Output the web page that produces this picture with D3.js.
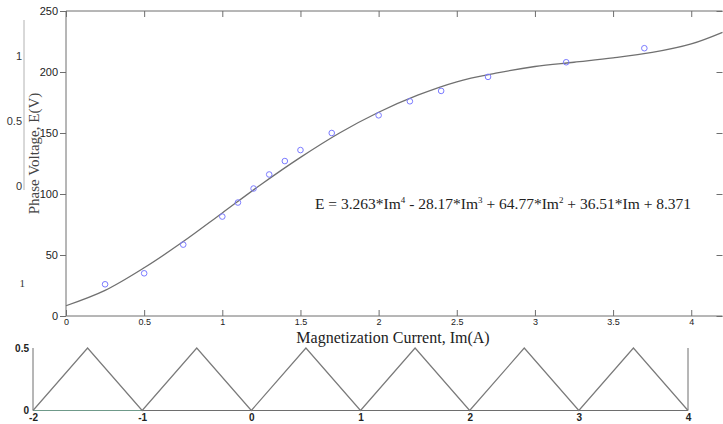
<!DOCTYPE html>
<html>
<head>
<meta charset="utf-8">
<script src="https://cdn.jsdelivr.net/npm/d3@7"></script>
<style>
  body { margin: 0; background: #fff; }
  svg { display: block; font-family: "Liberation Serif", "Times New Roman", serif; }
</style>
</head>
<body>
<script>
// measured points (blue circles)
var measCurrent = [0.25, 0.5, 0.75, 1.0, 1.1, 1.2, 1.3, 1.4, 1.5, 1.7, 2.0, 2.2, 2.4, 2.7, 3.2, 3.7];
var measVoltage = [26, 35, 58.5, 81.5, 93, 104.5, 116, 127, 136, 150, 164.5, 176, 184.5, 196, 208, 219.5];

// fitted curve
var fitCurrent = [0, 0.25, 0.5, 0.75, 1.0, 1.25, 1.5, 1.75, 2.0, 2.25, 2.5, 2.75, 3.0, 3.25, 3.5, 3.75, 4.0, 4.2];
var fitVoltage = [8.4, 21, 39.5, 61, 84.5, 108, 130, 150, 167, 181, 192, 199, 204.5, 208, 211.5, 216, 223, 232.5];

var xTicks = [0, 0.5, 1, 1.5, 2, 2.5, 3, 3.5, 4];
var yTicks = [0, 50, 100, 150, 200, 250];

// lower strip: triangle wave
var waveX = [-2, -1.5, -1, -0.5, 0, 0.5, 1, 1.5, 2, 2.5, 3, 3.5, 4];
var waveY = [0, 0.5, 0, 0.5, 0, 0.5, 0, 0.5, 0, 0.5, 0, 0.5, 0];
var waveTicks = [-2, -1, 0, 1, 2, 3, 4];
var waveYTicks = [0, 0.5];

// faint leftover axis on the far left
var ghostTicks = [0, 0.5, 1];

var width = 723, height = 424;
var axisCol = "#6e6e6e";

var svg = d3.select("body").append("svg")
    .attr("width", width)
    .attr("height", height);

// ghost axis
var yg = d3.scaleLinear().domain([0, 1]).range([186, 56]);
svg.append("line")
    .attr("x1", 24).attr("x2", 24).attr("y1", 20).attr("y2", 190)
    .attr("stroke", "#a0a0a0").attr("stroke-width", 0.8);
var gg = svg.append("g")
    .attr("transform", "translate(22,0)")
    .call(d3.axisLeft(yg).tickValues(ghostTicks).tickSize(0).tickPadding(0).tickFormat(d3.format("")));
gg.select(".domain").remove();
gg.selectAll("text").style("font-size", "11px").attr("fill", "#333");
svg.append("text")
    .attr("x", 25).attr("y", yg(-0.75))
    .attr("dy", "0.32em")
    .attr("text-anchor", "end")
    .style("font-size", "11px")
    .attr("fill", "#333")
    .text("1");

// ---- main plot ----
var x = d3.scaleLinear().domain([0, 4.2]).range([66, 722.5]);
var y = d3.scaleLinear().domain([0, 250]).range([316, 11]);

// box
svg.append("path")
    .attr("d", `M${x(4.2)},${y(250)}H${x(0)}V${y(0)}H${x(4.2)}`)
    .attr("fill", "none")
    .attr("stroke", axisCol)
    .attr("stroke-width", 1);

var gx = svg.append("g")
    .attr("transform", `translate(0,${y(0)})`)
    .call(d3.axisBottom(x).tickValues(xTicks).tickSizeInner(-6).tickSizeOuter(0).tickPadding(3)
      .tickFormat(d3.format("")));
gx.select(".domain").remove();
gx.selectAll("line").attr("stroke", axisCol);
gx.selectAll("text").style("font-size", "9px").attr("fill", "#222");

var gxt = svg.append("g")
    .attr("transform", `translate(0,${y(250)})`)
    .call(d3.axisTop(x).tickValues(xTicks).tickSizeInner(-6).tickSizeOuter(0).tickFormat(""));
gxt.select(".domain").remove();
gxt.selectAll("line").attr("stroke", axisCol);

var gy = svg.append("g")
    .attr("transform", `translate(${x(0)},0)`)
    .call(d3.axisLeft(y).tickValues(yTicks).tickSizeInner(6).tickSizeOuter(0).tickPadding(2));
gy.select(".domain").remove();
gy.selectAll("line").attr("stroke", axisCol);
gy.selectAll("text").style("font-size", "11px").attr("fill", "#222");

var gyr = svg.append("g")
    .attr("transform", `translate(${x(4.2)},0)`)
    .call(d3.axisRight(y).tickValues(yTicks).tickSizeInner(-6).tickSizeOuter(0).tickFormat(""));
gyr.select(".domain").remove();
gyr.selectAll("line").attr("stroke", axisCol);

// fitted curve
var fitData = fitCurrent.map((c, i) => [c, fitVoltage[i]]);
svg.append("path")
    .datum(fitData)
    .attr("fill", "none")
    .attr("stroke", "#707070")
    .attr("stroke-width", 1.3)
    .attr("d", d3.line().x(d => x(d[0])).y(d => y(d[1])).curve(d3.curveCatmullRom));

// measured circles
svg.selectAll("circle.meas")
  .data(measCurrent.map((c, i) => [c, measVoltage[i]]))
  .enter().append("circle")
    .attr("class", "meas")
    .attr("cx", d => x(d[0]))
    .attr("cy", d => y(d[1]))
    .attr("r", 2.8)
    .attr("fill", "none")
    .attr("stroke", "#7b7bff")
    .attr("stroke-width", 1);

// labels
svg.append("text")
    .attr("transform", `translate(39,${(y(0) + y(250)) / 2 - 10}) rotate(-90)`)
    .attr("text-anchor", "middle")
    .style("font-size", "15px")
    .attr("fill", "#444")
    .text("Phase Voltage, E(V)");

svg.append("text")
    .attr("x", 393)
    .attr("y", 343)
    .attr("text-anchor", "middle")
    .style("font-size", "16px")
    .attr("fill", "#222")
    .text("Magnetization Current, Im(A)");

var eq = svg.append("text")
    .attr("x", 315)
    .attr("y", 209)
    .style("font-size", "15.5px")
    .attr("fill", "#222");
eq.append("tspan").text("E = 3.263*Im");
eq.append("tspan").attr("dy", -6).style("font-size", "9px").text("4");
eq.append("tspan").attr("dy", 6).text(" - 28.17*Im");
eq.append("tspan").attr("dy", -6).style("font-size", "9px").text("3");
eq.append("tspan").attr("dy", 6).text(" + 64.77*Im");
eq.append("tspan").attr("dy", -6).style("font-size", "9px").text("2");
eq.append("tspan").attr("dy", 6).text(" + 36.51*Im + 8.371");

// ---- lower strip ----
var x2 = d3.scaleLinear().domain([-2, 4]).range([33, 688]);
var y2 = d3.scaleLinear().domain([0, 0.5]).range([410.5, 348]);

svg.append("path")
    .attr("d", `M${x2(-2)},${y2(0.5)}V${y2(0)}H${x2(4)}V${y2(0.5)}`)
    .attr("fill", "none")
    .attr("stroke", axisCol)
    .attr("stroke-width", 1);
svg.append("line")
    .attr("x1", x2(-2)).attr("x2", x2(-1))
    .attr("y1", y2(0)).attr("y2", y2(0))
    .attr("stroke", "#6f9a8a")
    .attr("stroke-width", 1.2);

svg.append("path")
    .datum(waveX.map((v, i) => [v, waveY[i]]))
    .attr("fill", "none")
    .attr("stroke", "#7a7a7a")
    .attr("stroke-width", 1.2)
    .attr("d", d3.line().x(d => x2(d[0])).y(d => y2(d[1])));

var gx2 = svg.append("g")
    .attr("transform", `translate(0,${y2(0)})`)
    .call(d3.axisBottom(x2).tickValues(waveTicks).tickSize(0).tickPadding(3)
      .tickFormat(d => String(d)));
gx2.select(".domain").remove();
gx2.selectAll("text").style("font-size", "10px").style("font-weight", "bold").attr("fill", "#222");

var gy2 = svg.append("g")
    .attr("transform", `translate(${x2(-2)},0)`)
    .call(d3.axisLeft(y2).tickValues(waveYTicks).tickSize(0).tickPadding(4)
      .tickFormat(d => String(d)));
gy2.select(".domain").remove();
gy2.selectAll("text").style("font-size", "10px").style("font-weight", "bold").attr("fill", "#222");
</script>
</body>
</html>
